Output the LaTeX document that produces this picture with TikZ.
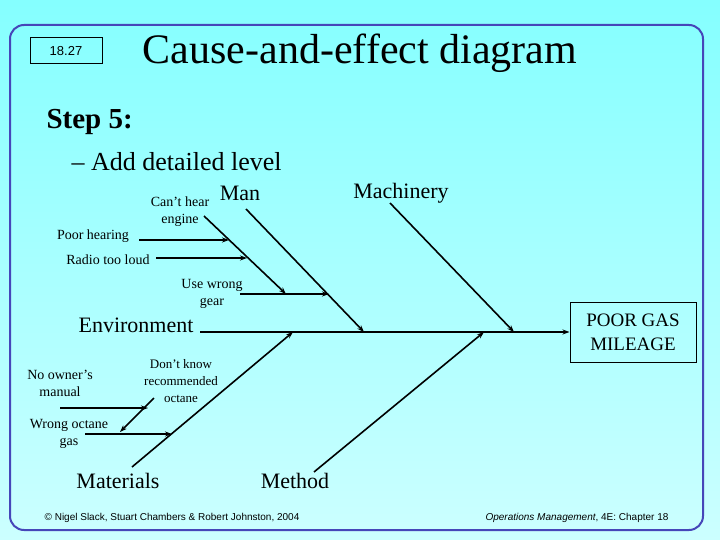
\documentclass[tikz,border=0pt]{standalone}
\usepackage{fontspec}
\setmainfont{Liberation Serif}
\newfontfamily\arialf{Liberation Sans}
\usetikzlibrary{arrows.meta}
\begin{document}
\begin{tikzpicture}[x=1pt,y=-1pt,
  bone/.style={line width=1.6pt,-{Stealth[length=7pt,width=5pt]}},
  lbl/.style={font=\fontsize{14}{17}\selectfont,align=center,inner sep=0pt},
  big/.style={font=\fontsize{22}{24}\selectfont,inner sep=0pt}]
\useasboundingbox (0,0) rectangle (720,540);
\shade[top color=cyan!48!white,bottom color=cyan!20!white] (0,0) rectangle (720,540);
\draw[draw=blue!45!gray,line width=2pt,rounded corners=14pt] (10,25) rectangle (703,530);
\node[draw,line width=1pt,font=\arialf\fontsize{13}{14}\selectfont,minimum width=72pt,minimum height=26pt] (num) at (66,51) {18.27};
\node[font=\fontsize{42}{44}\selectfont] (title) at (360,53) {Cause-and-effect diagram};
\node[font=\bfseries\fontsize{29}{30}\selectfont,anchor=west] (step) at (43,122) {Step 5:};
\node[font=\fontsize{26}{28}\selectfont,anchor=west] (add) at (68,162) {– Add detailed level};
% effect
\node[draw,line width=1pt,font=\fontsize{19}{24}\selectfont,align=center,minimum width=126pt,minimum height=60pt] (eff) at (633,332) {POOR GAS\\MILEAGE};
\coordinate (sp0) at (200,332);
\draw[bone] (sp0) -- (eff.west);
% main bones
\coordinate (man0) at (246,209); \coordinate (man1) at (364,332);
\coordinate (mac0) at (390,203); \coordinate (mac1) at (514,332);
\coordinate (mat0) at (132,467); \coordinate (mat1) at (293,332);
\coordinate (met0) at (314,472); \coordinate (met1) at (484,332);
\draw[bone] (man0) -- (man1);
\draw[bone] (mac0) -- (mac1);
\draw[bone] (mat0) -- (mat1);
\draw[bone] (met0) -- (met1);
\node[big] (man) at (240,193) {Man};
\node[big] (mac) at (401,193) {Machinery};
\node[big] (env) at (136,325) {Environment};
\node[big] (mat) at (118,481) {Materials};
\node[big] (met) at (295,481) {Method};
% sub causes Man
\coordinate (ch0) at (204,216); \coordinate (ch1) at (286,294);
\draw[bone] (ch0) -- (ch1);
\coordinate (ph0) at (139,240); \coordinate (ph1) at (229,240);
\draw[bone] (ph0) -- (ph1);
\coordinate (rl0) at (156,258); \coordinate (rl1) at (247,258);
\draw[bone] (rl0) -- (rl1);
\coordinate (ug0) at (240,294); \coordinate (ug1) at (329,294);
\draw[bone] (ug0) -- (ug1);
\node[lbl] (cant) at (180,212) {Can't hear\\engine};
\node[lbl] (poor) at (93,236) {Poor hearing};
\node[lbl] (radio) at (108,260) {Radio too loud};
\node[lbl] (gear) at (212,294) {Use wrong\\gear};
% materials sub
\coordinate (dk0) at (154,398); \coordinate (dk1) at (120,432);
\draw[bone] (dk0) -- (dk1);
\coordinate (no0) at (60,408); \coordinate (no1) at (148,408);
\draw[bone] (no0) -- (no1);
\coordinate (wo0) at (85,434); \coordinate (wo1) at (172,434);
\draw[bone] (wo0) -- (wo1);
\node[lbl,font=\fontsize{13}{17}\selectfont] (dont) at (181,381) {Don't know\\recommended\\octane};
\node[lbl] (owner) at (60,383) {No owner's\\manual};
\node[lbl] (wrong) at (69,434) {Wrong octane\\gas};
% footer
\node[font=\arialf\fontsize{10}{11}\selectfont] (c) at (172,518) {© Nigel Slack, Stuart Chambers \& Robert Johnston, 2004};
\node[font=\arialf\fontsize{10}{11}\selectfont] (om) at (577,518) {\textit{Operations Management}, 4E: Chapter 18};
\end{tikzpicture}
\end{document}
